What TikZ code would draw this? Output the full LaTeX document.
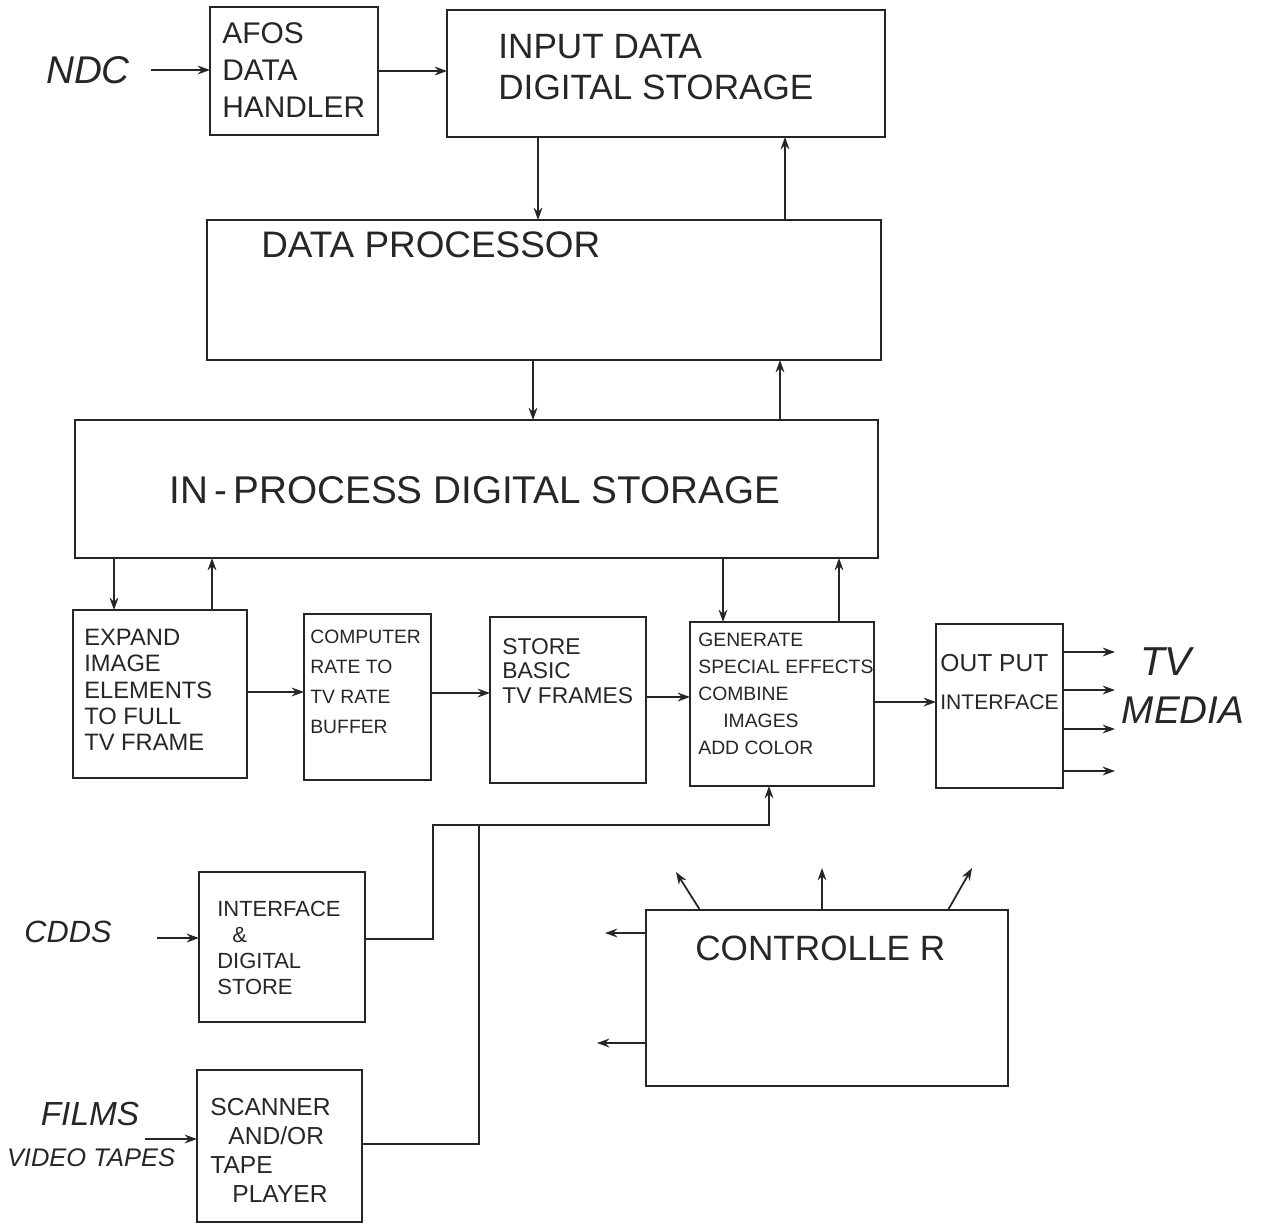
\documentclass[tikz,border=0pt]{standalone}
\usepackage{fontspec}
\setmainfont{Liberation Sans}
\usetikzlibrary{arrows.meta}
\newcommand{\mkbox}[5]{\node[boxst, minimum width={(#4-#2)*0.02cm}, minimum height={(#5-#3)*0.02cm}] (#1) at ({(#2+#4)/2},{(#3+#5)/2}) {};}
\begin{document}
\begin{tikzpicture}[x=0.02cm,y=-0.02cm,
  boxst/.style={draw=black!85, line width=1.1pt, inner sep=0pt, outer sep=0pt},
  lbl/.style={inner sep=0pt, anchor=west, align=left, text=black!85},
  hand/.style={inner sep=0pt, text=black!85, font=\itshape},
  arr/.style={draw=black!85, line width=1pt, -{Stealth[length=7pt,width=5pt]}},
  ln/.style={draw=black!85, line width=1pt}]
\useasboundingbox (0,0) rectangle (1263,1225);

% boxes
\mkbox{afos}{210}{7}{378}{135}
\mkbox{inp}{447}{10}{885}{137}
\mkbox{dp}{207}{220}{881}{360}
\mkbox{ip}{75}{420}{878}{558}
\mkbox{exp}{73}{610}{247}{778}
\mkbox{comp}{304}{614}{431}{780}
\mkbox{store}{490}{617}{646}{783}
\mkbox{gen}{690}{622}{874}{786}
\mkbox{out}{936}{624}{1063}{788}
\mkbox{ids}{199}{872}{365}{1022}
\mkbox{scan}{197}{1070}{362}{1222}
\mkbox{ctrl}{646}{910}{1008}{1086}

% box texts
\node[lbl, font=\fontsize{17}{21}\selectfont] (afost) at (222,70) {AFOS\\DATA\\HANDLER};
\node[lbl, font=\fontsize{20}{23}\selectfont] (inpt) at (498,67) {INPUT DATA\\DIGITAL STORAGE};
\node[lbl, font=\fontsize{21}{24}\selectfont] (dpt) at (261,245) {DATA PROCESSOR};
\node[lbl, font=\fontsize{22}{26}\selectfont] (ipt) at (169,490) {IN\,-\,PROCESS DIGITAL STORAGE};
\node[lbl, font=\fontsize{13.5}{15}\selectfont] (expt) at (84,690) {EXPAND\\IMAGE\\ELEMENTS\\TO FULL\\TV FRAME};
\node[lbl, font=\fontsize{11}{17}\selectfont] (compt) at (310,682) {COMPUTER\\RATE TO\\TV RATE\\BUFFER};
\node[lbl, font=\fontsize{13}{14}\selectfont] (storet) at (502,671) {STORE\\BASIC\\TV FRAMES};
\node[lbl, font=\fontsize{11}{15.3}\selectfont] (gent) at (698,694) {GENERATE\\SPECIAL EFFECTS\\COMBINE\\\hspace*{0.5cm}IMAGES\\ADD COLOR};
\node[lbl, font=\fontsize{12}{22}\selectfont] (outt) at (940,682) {{\fontsize{14}{22}\selectfont OUT PUT}\\INTERFACE};
\node[lbl, font=\fontsize{12.5}{14.7}\selectfont] (idst) at (217,948) {INTERFACE\\\hspace*{0.3cm}\&\\DIGITAL\\STORE};
\node[lbl, font=\fontsize{14}{16.5}\selectfont] (scant) at (210,1150) {SCANNER\\\hspace*{0.36cm}AND/OR\\TAPE\\\hspace*{0.44cm}PLAYER};
\node[lbl, font=\fontsize{20}{24}\selectfont] (ctrlt) at (695,948) {CONTROLLE R};

% outside labels
\node[hand, font=\itshape\fontsize{22}{26}\selectfont] (ndc) at (88,70) {NDC};
\node[hand, font=\itshape\fontsize{17.5}{20}\selectfont] (cdds) at (68,932) {CDDS};
\node[hand, font=\itshape\fontsize{19}{22}\selectfont] (films) at (90,1114) {FILMS};
\node[hand, font=\itshape\fontsize{14.5}{18}\selectfont] (vtapes) at (91,1158) {VIDEO TAPES};
\node[hand, font=\itshape\fontsize{23}{28}\selectfont] (tv) at (1166,662) {TV};
\node[hand, font=\itshape\fontsize{22}{28}\selectfont] (media) at (1183,710) {MEDIA};

% free ends
\coordinate (filmsin) at (145,1139);
\coordinate (o1) at (1115,652);
\coordinate (o2) at (1115,690);
\coordinate (o3) at (1115,729);
\coordinate (o4) at (1115,771);
\coordinate (c1) at (676,872);
\coordinate (c2) at (822,868);
\coordinate (c3) at (972,868);
\coordinate (c4) at (605,933);
\coordinate (c5) at (597,1043);
\coordinate (j1) at (433,825);
\coordinate (j2) at (769,825);
\coordinate (j3) at (479,825);

% connectors
\draw[arr, shorten <=0.42cm] (ndc.east) -- (ndc.east -| afos.west);
\draw[arr] (afos.east) -- (afos.east -| inp.west);
\draw[arr] (538,0 |- inp.south) -- (538,0 |- dp.north);
\draw[arr] (785,0 |- dp.north) -- (785,0 |- inp.south);
\draw[arr] (533,0 |- dp.south) -- (533,0 |- ip.north);
\draw[arr] (780,0 |- ip.north) -- (780,0 |- dp.south);
\draw[arr] (114,0 |- ip.south) -- (114,0 |- exp.north);
\draw[arr] (212,0 |- exp.north) -- (212,0 |- ip.south);
\draw[arr] (723,0 |- ip.south) -- (723,0 |- gen.north);
\draw[arr] (839,0 |- gen.north) -- (839,0 |- ip.south);
\draw[arr] (exp.east |- 0,692) -- (comp.west |- 0,692);
\draw[arr] (comp.east |- 0,693) -- (store.west |- 0,693);
\draw[arr] (store.east |- 0,697) -- (gen.west |- 0,697);
\draw[arr] (gen.east |- 0,702) -- (out.west |- 0,702);
\draw[arr] (out.east |- o1) -- (o1);
\draw[arr] (out.east |- o2) -- (o2);
\draw[arr] (out.east |- o3) -- (o3);
\draw[arr] (out.east |- o4) -- (o4);
\draw[arr] (ids.east |- 0,939) -| (j1) -- (j2) -- (j2 |- gen.south);
\draw[ln] (scan.east |- 0,1144) -| (j3);
\draw[arr, shorten <=0.9cm] (cdds.east |- 0,938) -- (ids.west |- 0,938);
\draw[arr] (filmsin) -- (scan.west |- filmsin);
\draw[arr] (700,0 |- ctrl.north) -- (c1);
\draw[arr] (822,0 |- ctrl.north) -- (c2);
\draw[arr] (948,0 |- ctrl.north) -- (c3);
\draw[arr] (ctrl.west |- c4) -- (c4);
\draw[arr] (ctrl.west |- c5) -- (c5);
\end{tikzpicture}
\end{document}
